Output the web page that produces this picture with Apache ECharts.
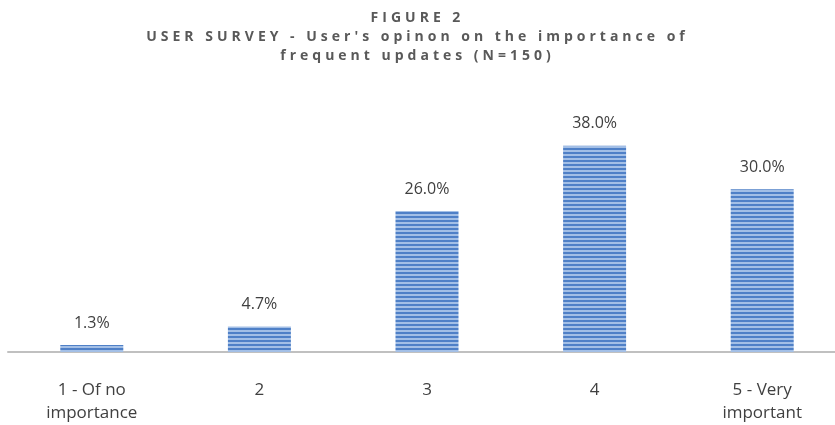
<!DOCTYPE html>
<html>
<head>
<meta charset="utf-8">
<script src="https://cdn.jsdelivr.net/npm/echarts@6/dist/echarts.min.js"></script>
<style>
  html, body { margin: 0; padding: 0; background: #fff; overflow: hidden; }
  #wrap { position: relative; width: 835px; height: 425px; overflow: hidden; }
  #chart { position: absolute; left: 0; top: 0; width: 846px; height: 425px; }
  .title {
    position: absolute; left: 0; top: 7px; width: 835px;
    text-align: center; font-family: "Open Sans", sans-serif; font-weight: 700;
    font-size: 14px; color: #595959; letter-spacing: 4px; line-height: 19px;
    z-index: 2;
  }
</style>
</head>
<body>
<div id="wrap">
  <div class="title">FIGURE 2<br>USER SURVEY - User's opinon on the importance of<br>frequent updates (N=150)</div>
  <div id="chart"></div>
</div>
<script>
// values (percent)
const categories = ['1 - Of no\nimportance', '2', '3', '4', '5 - Very\nimportant']
const shares = [1.3, 4.7, 26.0, 38.0, 30.0]

// striped fill like the original bars
const makeStripes = () => {
    const c = document.createElement('canvas')
    c.width = 4
    c.height = 4
    const ctx = c.getContext('2d')
    ctx.fillStyle = '#4f80c7'
    ctx.fillRect(0, 0, 4, 2)
    ctx.fillStyle = '#a3bfe6'
    ctx.fillRect(0, 2, 4, 2)
    return c
}

const chart = echarts.init(document.getElementById('chart'))
chart.setOption({
    animation: false,
    grid: { left: 8, right: 0, top: 135, bottom: 73, containLabel: false },
    xAxis: {
        type: 'category',
        data: categories,
        axisLine: { lineStyle: { color: '#c0c0c0', width: 2 } },
        axisTick: { show: false },
        axisLabel: {
            color: '#404040', fontSize: 17, fontFamily: 'Open Sans',
            lineHeight: 23, margin: 27, interval: 0
        }
    },
    yAxis: {
        type: 'value', min: 0, max: 40,
        show: false,
        splitLine: { show: false }
    },
    series: [{
        type: 'bar',
        data: shares,
        barWidth: 63,
        itemStyle: { color: { image: makeStripes(), repeat: 'repeat' } },
        label: {
            show: true, position: 'top', distance: 14,
            color: '#404040', fontSize: 16, fontFamily: 'Open Sans',
            formatter: p => p.value.toFixed(1) + '%'
        }
    }]
})
</script>
</body>
</html>
